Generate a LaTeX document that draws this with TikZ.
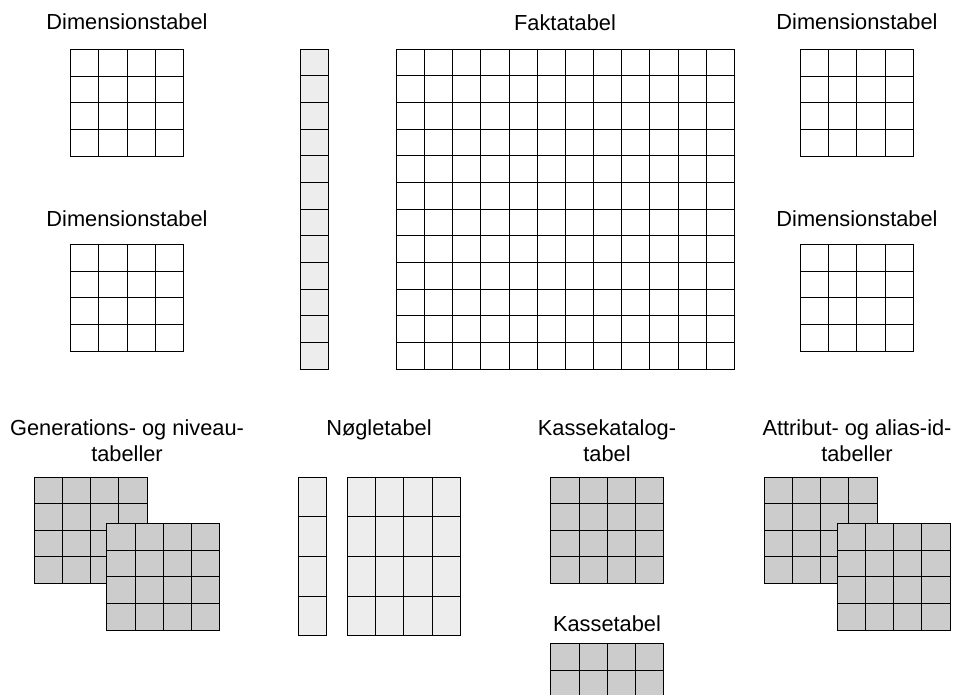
\documentclass[tikz,border=0pt]{standalone}
\usepackage{fontspec}
\setmainfont{Liberation Sans}
\newcommand{\tabgrid}[7]{%
  \filldraw[tabline,fill=#7] (#1,#2) rectangle ++(#3,#4);
  \ifnum#5>1
    \pgfmathtruncatemacro{\tgnc}{#5-1}%
    \foreach \k in {1,...,\tgnc} \draw[tabline] ({#1+\k*#3/#5},#2) -- ++(0,#4);
  \fi
  \ifnum#6>1
    \pgfmathtruncatemacro{\tgnr}{#6-1}%
    \foreach \k in {1,...,\tgnr} \draw[tabline] (#1,{#2+\k*#4/#6}) -- ++(#3,0);
  \fi
}
\definecolor{lightfill}{HTML}{EDEDED}
\definecolor{grayfill}{HTML}{CCCCCC}
\begin{document}
\begin{tikzpicture}[x=1pt,y=-1pt,
  tabline/.style={draw=black,line width=0.9pt},
  lbl/.style={inner sep=0pt,anchor=base,align=center,font=\fontsize{21.8}{26}\selectfont}]
\useasboundingbox (0,0) rectangle (957,694);
\clip (0,0) rectangle (957,694);
% labels
\node[lbl] (dimTL) at (127,29.3) {Dimensionstabel};
\node[lbl] (dimML) at (127,226.7) {Dimensionstabel};
\node[lbl] (dimTR) at (857,29.3) {Dimensionstabel};
\node[lbl] (dimMR) at (857,226.7) {Dimensionstabel};
\node[lbl] (fakta) at (565,30.5) {Faktatabel};
\node[lbl] (gen) at (127,461) {Generations- og niveau-\\tabeller};
\node[lbl] (noegle) at (379,435) {Nøgletabel};
\node[lbl] (kkat) at (607,461) {Kassekatalog-\\tabel};
\node[lbl] (kasse) at (607,631.7) {Kassetabel};
\node[lbl] (attr) at (857,461) {Attribut- og alias-id-\\tabeller};
% top tables
\tabgrid{70.7}{49.3}{112.7}{106.7}{4}{4}{white}
\tabgrid{70.7}{244.3}{112.7}{107}{4}{4}{white}
\tabgrid{800.5}{49.3}{112.7}{106.7}{4}{4}{white}
\tabgrid{800.5}{244.3}{112.7}{107}{4}{4}{white}
\tabgrid{300.7}{49.3}{28}{319.7}{1}{12}{lightfill}
\tabgrid{396.3}{49.3}{338}{319.7}{12}{12}{white}
% bottom tables
\tabgrid{34.3}{477}{112.7}{106.3}{4}{4}{grayfill}
\tabgrid{106.7}{523.7}{113}{106.3}{4}{4}{grayfill}
\tabgrid{298.3}{477}{28.3}{158.7}{1}{4}{lightfill}
\tabgrid{347.3}{477}{113}{158.7}{4}{4}{lightfill}
\tabgrid{550.7}{477}{113}{106.3}{4}{4}{grayfill}
\tabgrid{550.7}{643.7}{113}{106.7}{4}{4}{grayfill}
\tabgrid{764}{477}{113}{106.3}{4}{4}{grayfill}
\tabgrid{837}{523.7}{113}{106.3}{4}{4}{grayfill}
\end{tikzpicture}
\end{document}
